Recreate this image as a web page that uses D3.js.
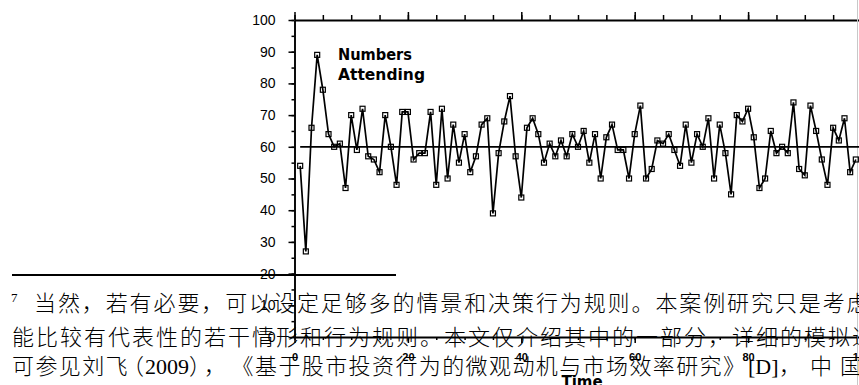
<!DOCTYPE html>
<html>
<head>
<meta charset="utf-8">
<script src="https://cdn.jsdelivr.net/npm/d3@7/dist/d3.min.js"></script>
<style>
  html, body { margin: 0; padding: 0; background: #fff; }
  svg { display: block; }
  .axis path, .axis line { stroke: #000; }
  .cjk { font-family: "Liberation Serif", "Noto Sans CJK SC", serif; font-size: 22px; fill: #000; font-weight: 300; }
</style>
</head>
<body>
<svg id="chart" width="859" height="385"></svg>
<script>
// Weekly bar attendance, weeks 1..99
const weeks = d3.range(1, 100);
const attendance = [
  54, 27, 66, 89, 78, 64, 60, 61, 47, 70,
  59, 72, 57, 56, 52, 70, 60, 48, 71, 71,
  56, 58, 58, 71, 48, 72, 50, 67, 55, 64,
  52, 57, 67, 69, 39, 58, 68, 76, 57, 44,
  66, 69, 64, 55, 61, 57, 62, 57, 64, 60,
  65, 55, 64, 50, 63, 67, 59, 59, 50, 64,
  73, 50, 53, 62, 61, 64, 59, 54, 67, 55,
  64, 60, 69, 50, 67, 58, 45, 70, 68, 72,
  63, 47, 50, 65, 58, 60, 58, 74, 53, 51,
  73, 65, 56, 48, 66, 62, 69, 52, 56
];
const threshold = 60;

const xTickValues = [0, 20, 40, 60, 80, 100];
const xTickLabels = ["0", "20", "40", "60", "80", "100"];
const yTickValues = [0, 10, 20, 30, 40, 50, 60, 70, 80, 90, 100];
const yTickLabels = ["0", "10", "20", "30", "40", "50", "60", "70", "80", "90", "100"];
const minorStep = [0, 5, 10, 15, 20, 25, 30, 35, 40, 45, 50, 55, 60, 65, 70, 75, 80, 85, 90, 95, 100];

const seriesTitle = ["Numbers", "Attending"];
const xTitle = "Time";

// Footnote text set over the figure
const footMark = "7";
const footLine1 = "当然，若有必要，可以设定足够多的情景和决策行为规则。本案例研究只是考虑";
const footLine2 = "能比较有代表性的若干情形和行为规则。本文仅介绍其中的一部分，详细的模拟过";
const footLine3 = [
  { text: "可参见刘飞", x: 12, ls: 1.4 },
  { text: "（", x: 122, ls: 0 },
  { text: "2009", x: 145, ls: 0 },
  { text: "）", x: 189, ls: 0 },
  { text: "，", x: 204, ls: 0 },
  { text: "《基于股市投资行为的微观动机与市场效率研究》", x: 231.6, ls: 1.4 },
  { text: "[D]", x: 748, ls: 0 },
  { text: "，", x: 779, ls: 0 },
  { text: "中", x: 810, ls: 0 },
  { text: "国", x: 840, ls: 0 }
];

const svg = d3.select("#chart");
const x = d3.scaleLinear().domain([0, 100]).range([294.5, 861.5]);
const y = d3.scaleLinear().domain([0, 100]).range([337, 20]);

function styleAxis(g, domainWidth) {
  g.attr("class", "axis");
  g.selectAll(".domain").attr("stroke-width", domainWidth);
  g.selectAll(".tick line").attr("stroke-width", 1.5);
}

// Top axis: minor and major ticks pointing up, no labels
const topG = svg.append("g").attr("transform", `translate(0,${y(100)})`);
topG.call(d3.axisTop(x).tickValues(minorStep).tickSize(5).tickSizeOuter(0).tickFormat(""));
styleAxis(topG, 1.9);
const topMajor = topG.append("g").call(d3.axisTop(x).tickValues(xTickValues).tickSize(8).tickFormat(""));
topMajor.select(".domain").remove();
styleAxis(topMajor, 0);

// Bottom axis: ticks pointing down, labels
const botG = svg.append("g").attr("transform", `translate(0,${y(0)})`);
botG.call(d3.axisBottom(x).tickValues(minorStep).tickSize(3).tickSizeOuter(0).tickFormat(""));
styleAxis(botG, 1.9);
const botMajor = botG.append("g").call(
  d3.axisBottom(x).tickValues(xTickValues).tickSize(6).tickFormat((d, i) => xTickLabels[i])
);
botMajor.select(".domain").remove();
styleAxis(botMajor, 0);
botMajor.selectAll("text")
  .attr("y", 24).attr("dy", 0)
  .attr("font-family", "Liberation Sans, Arial, sans-serif")
  .attr("font-weight", "bold")
  .attr("font-size", 11).attr("fill", "#000");

// Left axis: ticks pointing left, labels
const leftG = svg.append("g").attr("transform", `translate(${x(0)},0)`);
leftG.call(d3.axisLeft(y).tickValues(minorStep).tickSize(3).tickSizeOuter(0).tickFormat(""));
styleAxis(leftG, 1.9);
const leftMajor = leftG.append("g").call(
  d3.axisLeft(y).tickValues(yTickValues).tickSize(6).tickPadding(13).tickFormat((d, i) => yTickLabels[i])
);
leftMajor.select(".domain").remove();
styleAxis(leftMajor, 0);
leftMajor.selectAll("text")
  .attr("font-family", "Liberation Sans, Arial, sans-serif")
  .attr("font-size", 14).attr("fill", "#000");

// Faint frame edge on the right
svg.append("line")
  .attr("x1", 857.5).attr("x2", 857.5).attr("y1", 0).attr("y2", 385)
  .attr("stroke", "#c8c8c8").attr("stroke-width", 1);

// Threshold line at 60
svg.append("line")
  .attr("x1", x(1)).attr("x2", x(100))
  .attr("y1", y(threshold)).attr("y2", y(threshold))
  .attr("stroke", "#000").attr("stroke-width", 1.7);

// Attendance series
const pts = weeks.map((w, i) => ({ w, v: attendance[i] }));
svg.append("path")
  .datum(pts)
  .attr("fill", "none")
  .attr("stroke", "#000")
  .attr("stroke-width", 1.7)
  .attr("stroke-linejoin", "miter")
  .attr("d", d3.line().x(d => x(d.w)).y(d => y(d.v)));

svg.append("g").selectAll("rect")
  .data(pts)
  .join("rect")
  .attr("x", d => x(d.w) - 2.5)
  .attr("y", d => y(d.v) - 2.5)
  .attr("width", 5).attr("height", 5)
  .attr("fill", "none")
  .attr("stroke", "#000")
  .attr("stroke-width", 1.2);

// Series title
svg.append("text")
  .attr("x", 338).attr("y", 60)
  .attr("font-family", "DejaVu Sans, sans-serif").attr("font-weight", "bold")
  .attr("font-size", 15).attr("textLength", 74).attr("lengthAdjust", "spacingAndGlyphs")
  .text(seriesTitle[0]);
svg.append("text")
  .attr("x", 338).attr("y", 80)
  .attr("font-family", "DejaVu Sans, sans-serif").attr("font-weight", "bold")
  .attr("font-size", 15).attr("textLength", 87).attr("lengthAdjust", "spacingAndGlyphs")
  .text(seriesTitle[1]);

// X axis title
svg.append("text")
  .attr("x", 582).attr("y", 387)
  .attr("text-anchor", "middle")
  .attr("font-family", "DejaVu Sans, sans-serif").attr("font-weight", "bold")
  .attr("font-size", 15)
  .text(xTitle);

// Footnote rule and text
svg.append("line")
  .attr("x1", 12).attr("x2", 396).attr("y1", 275).attr("y2", 275)
  .attr("stroke", "#000").attr("stroke-width", 2);

svg.append("text")
  .attr("x", 11).attr("y", 302)
  .attr("font-family", "Liberation Serif, serif").attr("font-size", 13)
  .text(footMark);

svg.append("text").attr("class", "cjk")
  .attr("x", 34).attr("y", 311)
  .style("letter-spacing", "1.9px")
  .text(footLine1);

svg.append("text").attr("class", "cjk")
  .attr("x", 12).attr("y", 345)
  .style("letter-spacing", "2px")
  .text(footLine2);

svg.append("g").selectAll("text")
  .data(footLine3)
  .join("text")
  .attr("class", "cjk")
  .attr("x", d => d.x).attr("y", 374)
  .style("letter-spacing", d => d.ls + "px")
  .text(d => d.text);
</script>
</body>
</html>
